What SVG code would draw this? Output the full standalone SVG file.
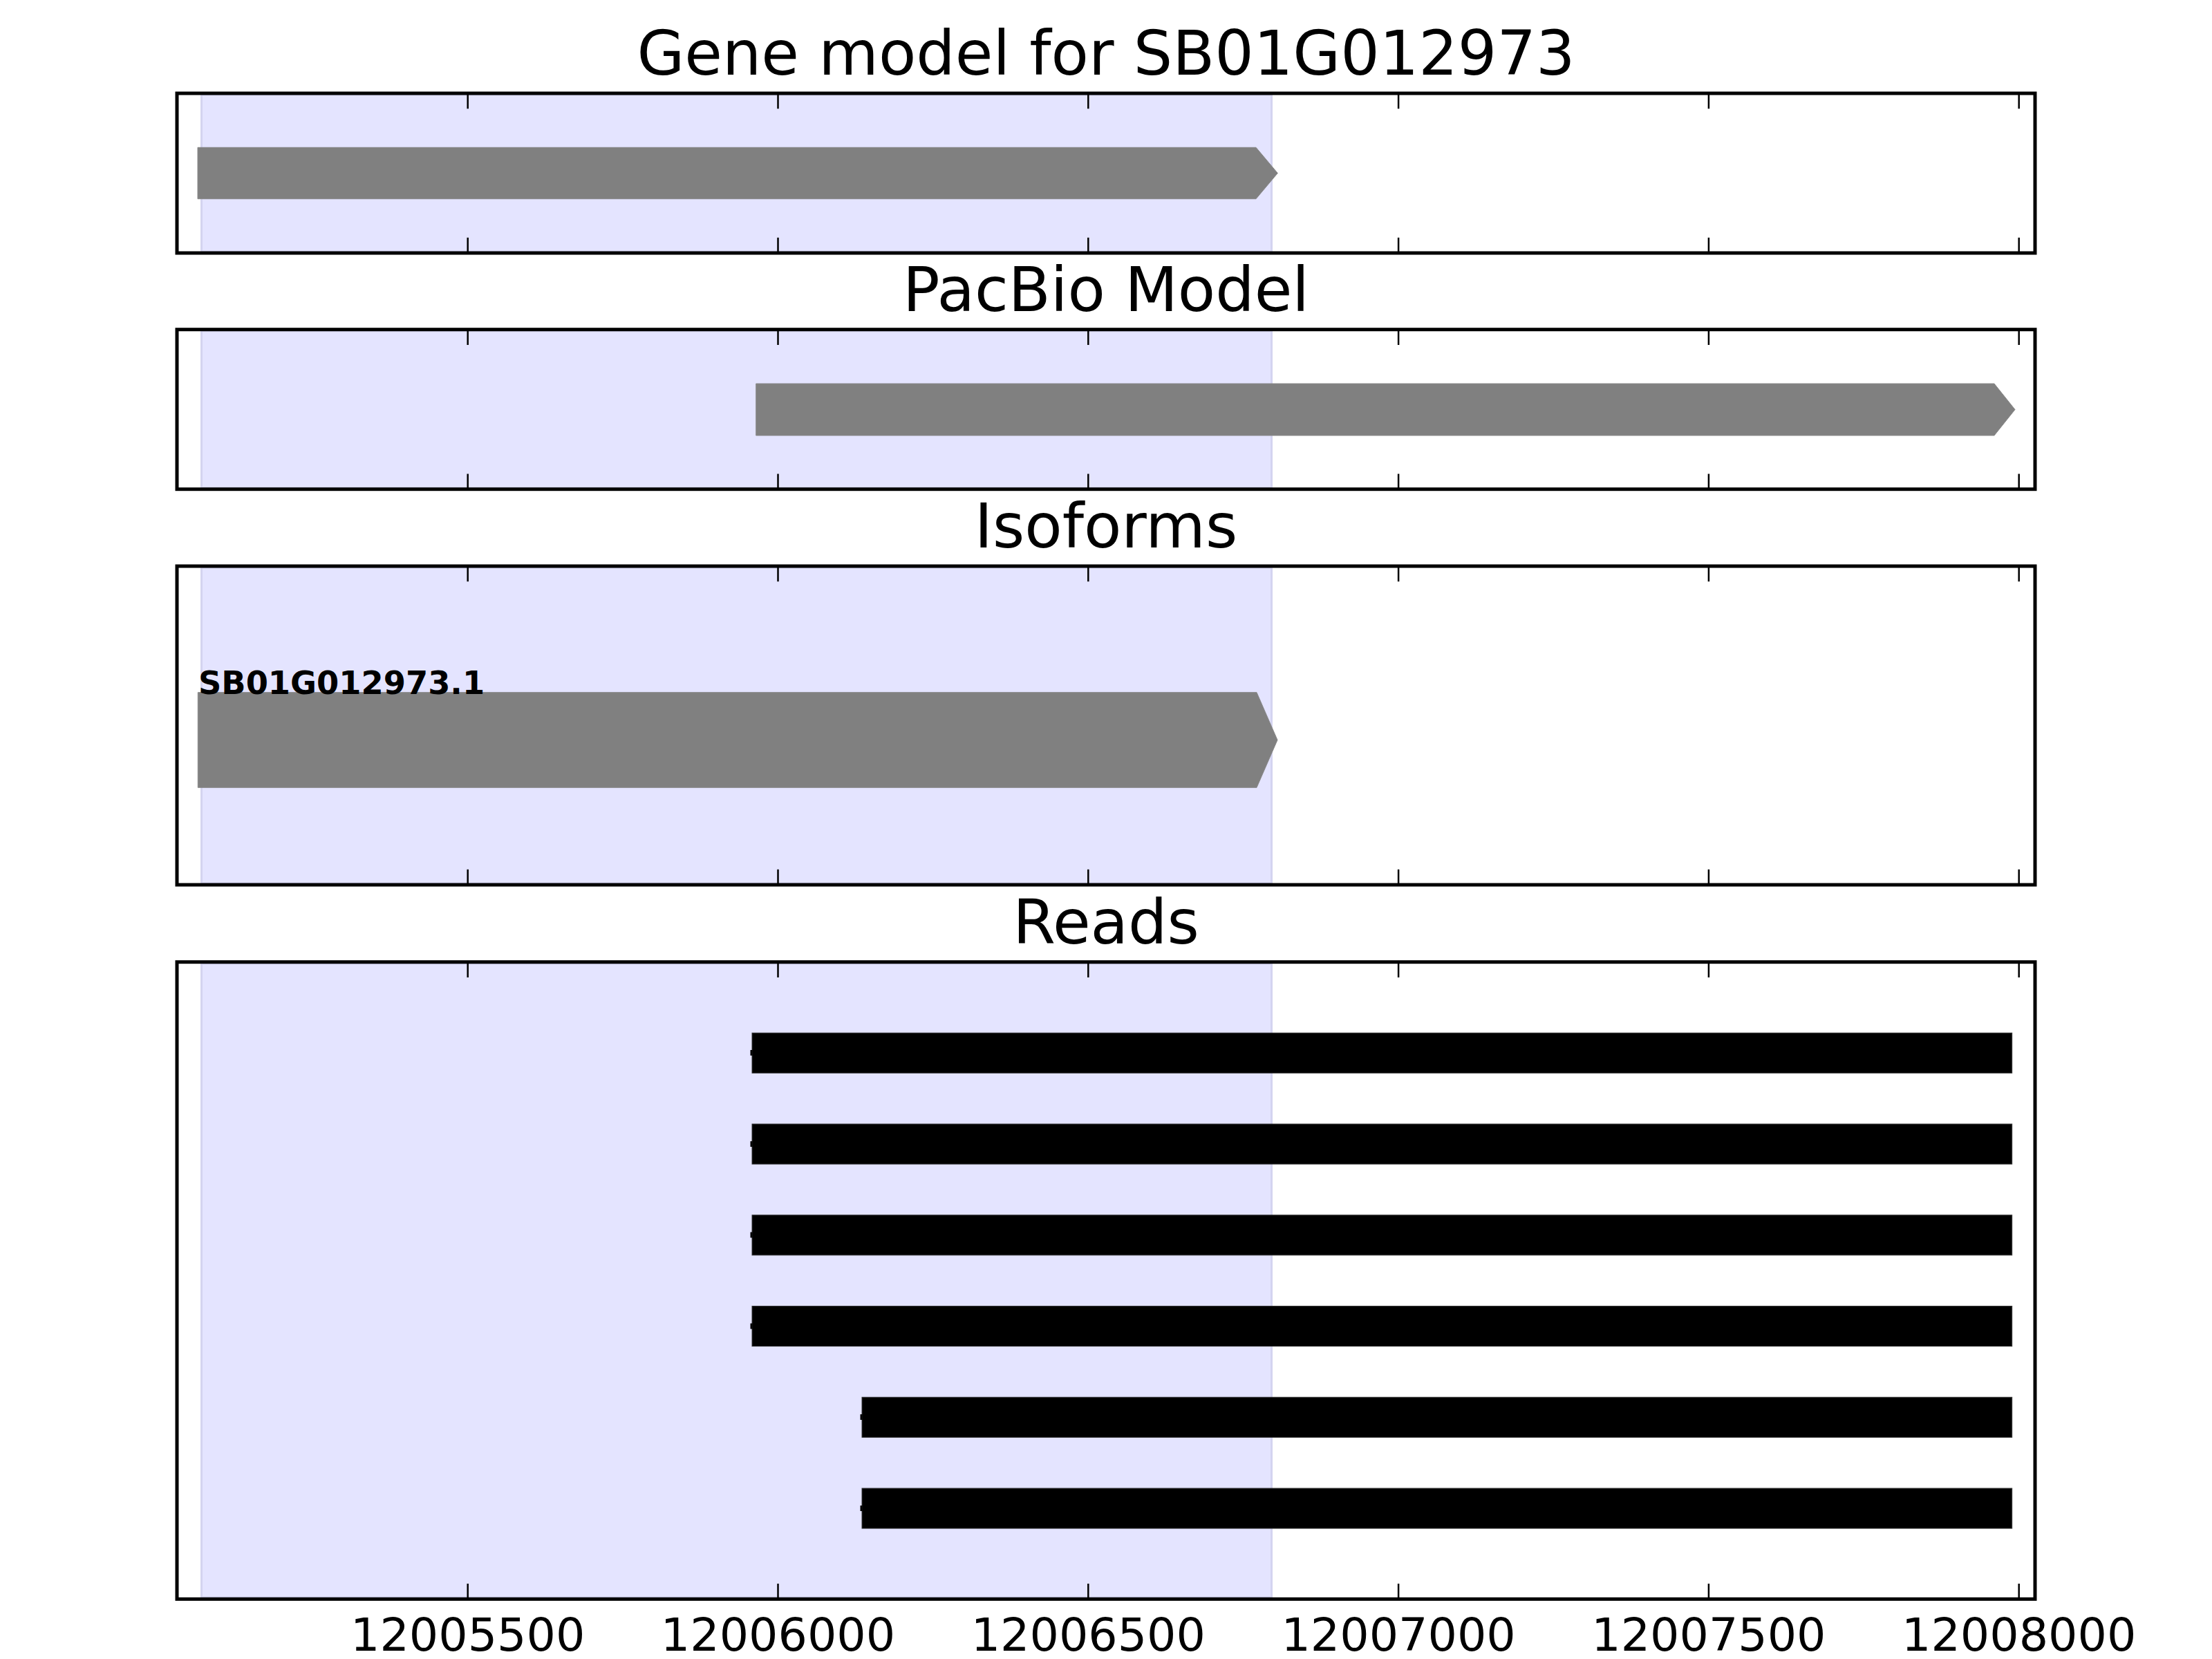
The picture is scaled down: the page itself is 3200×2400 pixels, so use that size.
<svg xmlns="http://www.w3.org/2000/svg" width="3200" height="2400" viewBox="0 0 3200 2400">
<style>
.title{font-family:"DejaVu Sans",sans-serif;font-size:88.9px;fill:#000;text-anchor:middle}
.tick{font-family:"DejaVu Sans",sans-serif;font-size:66.67px;fill:#000;text-anchor:middle}
.lbl{font-family:"DejaVu Sans",sans-serif;font-size:46.3px;font-weight:bold;fill:#000}
.frame{fill:none;stroke:#000;stroke-width:5}
.span{fill:#e4e4ff;stroke:#d4d4f0;stroke-width:3}
.gene{fill:#808080;stroke:#888;stroke-width:1}
.read{fill:#000;stroke:#333;stroke-width:1}
.tk{stroke:#000;stroke-width:2.5}
</style>
<rect width="3200" height="2400" fill="#fff"/>

<g id="panel-gene-model">
<text class="title" x="1600" y="108">Gene model for SB01G012973</text>
<rect class="span" x="291.5" y="137" width="1548" height="227"/>
<polygon class="gene" points="286,213.3 1817,213.3 1848.3,250.5 1817,287.7 286,287.7"/>
</g>

<g id="panel-pacbio">
<text class="title" x="1600" y="449.7">PacBio Model</text>
<rect class="span" x="291.5" y="478.7" width="1548" height="227"/>
<polygon class="gene" points="1093.7,555 2885,555 2915,592.5 2885,630 1093.7,630"/>
</g>

<g id="panel-isoforms">
<text class="title" x="1600" y="792">Isoforms</text>
<rect class="span" x="291.5" y="821" width="1548" height="457"/>
<polygon class="gene" points="286.3,1001.7 1818,1001.7 1848,1070.5 1818,1139.3 286.3,1139.3"/>
<text class="lbl" x="287" y="1004">SB01G012973.1</text>
</g>

<g id="panel-reads">
<text class="title" x="1600" y="1364.7">Reads</text>
<rect class="span" x="291.5" y="1394" width="1548" height="917"/>
<rect class="read" x="1088" y="1494.3" width="1822.7" height="58"/>
<rect class="read" x="1088" y="1626.05" width="1822.7" height="58"/>
<rect class="read" x="1088" y="1757.8" width="1822.7" height="58"/>
<rect class="read" x="1088" y="1889.55" width="1822.7" height="58"/>
<rect class="read" x="1247" y="2021.3" width="1663.7" height="58"/>
<rect class="read" x="1247" y="2153.05" width="1663.7" height="58"/>
<rect x="1085.5" y="1519" width="3" height="8" fill="#000"/>
<rect x="1085.5" y="1651" width="3" height="8" fill="#000"/>
<rect x="1085.5" y="1782.5" width="3" height="8" fill="#000"/>
<rect x="1085.5" y="1914.5" width="3" height="8" fill="#000"/>
<rect x="1244.5" y="2046" width="3" height="8" fill="#000"/>
<rect x="1244.5" y="2178" width="3" height="8" fill="#000"/>
</g>

<g id="axes">
<g id="ticks">
<path class="tk" d="M676.7,135v22.2M1125.5,135v22.2M1574.3,135v22.2M2023.1,135v22.2M2471.9,135v22.2M2920.7,135v22.2
M676.7,366v-22.2M1125.5,366v-22.2M1574.3,366v-22.2M2023.1,366v-22.2M2471.9,366v-22.2M2920.7,366v-22.2
M676.7,476.7v22.2M1125.5,476.7v22.2M1574.3,476.7v22.2M2023.1,476.7v22.2M2471.9,476.7v22.2M2920.7,476.7v22.2
M676.7,707.7v-22.2M1125.5,707.7v-22.2M1574.3,707.7v-22.2M2023.1,707.7v-22.2M2471.9,707.7v-22.2M2920.7,707.7v-22.2
M676.7,819v22.2M1125.5,819v22.2M1574.3,819v22.2M2023.1,819v22.2M2471.9,819v22.2M2920.7,819v22.2
M676.7,1280v-22.2M1125.5,1280v-22.2M1574.3,1280v-22.2M2023.1,1280v-22.2M2471.9,1280v-22.2M2920.7,1280v-22.2
M676.7,1391.7v22.2M1125.5,1391.7v22.2M1574.3,1391.7v22.2M2023.1,1391.7v22.2M2471.9,1391.7v22.2M2920.7,1391.7v22.2
M676.7,2313.3v-22.2M1125.5,2313.3v-22.2M1574.3,2313.3v-22.2M2023.1,2313.3v-22.2M2471.9,2313.3v-22.2M2920.7,2313.3v-22.2"/>
</g>
<rect class="frame" x="256" y="135" width="2688" height="231"/>
<rect class="frame" x="256" y="476.7" width="2688" height="231"/>
<rect class="frame" x="256" y="819" width="2688" height="461"/>
<rect class="frame" x="256" y="1391.7" width="2688" height="921.6"/>
<text class="tick" x="676.7" y="2388">12005500</text>
<text class="tick" x="1125.5" y="2388">12006000</text>
<text class="tick" x="1574.3" y="2388">12006500</text>
<text class="tick" x="2023.1" y="2388">12007000</text>
<text class="tick" x="2471.9" y="2388">12007500</text>
<text class="tick" x="2920.7" y="2388">12008000</text>
</g>
</svg>
